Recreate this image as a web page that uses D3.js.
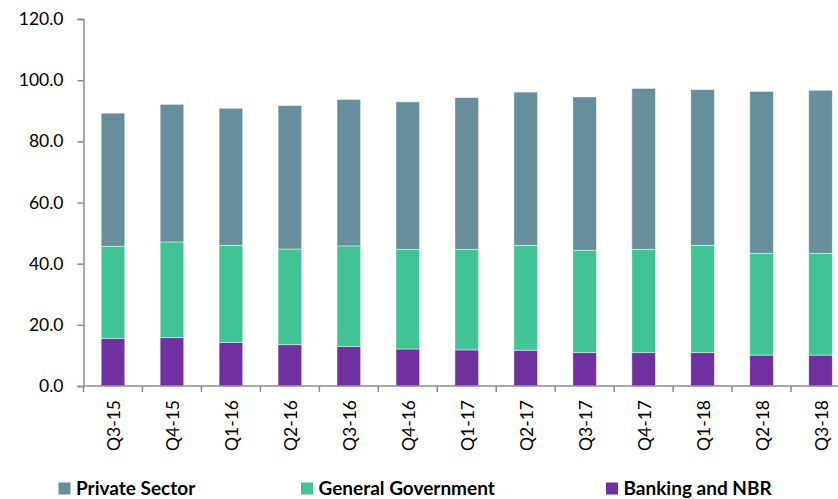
<!DOCTYPE html>
<html>
<head>
<meta charset="utf-8">
<script src="https://cdn.jsdelivr.net/npm/d3@7"></script>
<style>
  html, body { margin: 0; padding: 0; background: #fff; }
  svg { display: block; font-family: Lato, "Open Sans", sans-serif; }
</style>
</head>
<body>
<svg id="chart" width="838" height="499"></svg>
<script>
// Quarterly shares by holder (stacked)
const quarters = ["Q3-15","Q4-15","Q1-16","Q2-16","Q3-16","Q4-16","Q1-17","Q2-17","Q3-17","Q4-17","Q1-18","Q2-18","Q3-18"];
const bankingNBR = [15.6, 15.8, 14.2, 13.5, 12.9, 12.1, 11.8, 11.7, 10.9, 10.9, 10.9, 10.1, 10.1];
const generalGovernment = [30.1, 31.3, 31.8, 31.3, 32.9, 32.6, 32.9, 34.3, 33.5, 33.8, 35.1, 33.3, 33.3];
const privateSector = [43.5, 45.0, 44.8, 46.9, 47.9, 48.2, 49.6, 50.1, 50.1, 52.6, 50.9, 52.9, 53.3];
const yTicks = [0, 20, 40, 60, 80, 100, 120];

const seriesKeys = ["Banking and NBR", "General Government", "Private Sector"];
const colors = {
  "Private Sector": "#668f9b",
  "General Government": "#40c395",
  "Banking and NBR": "#7030a0"
};
const legendOrder = ["Private Sector", "General Government", "Banking and NBR"];

const rows = quarters.map((q, i) => ({
  quarter: q,
  "Banking and NBR": bankingNBR[i],
  "General Government": generalGovernment[i],
  "Private Sector": privateSector[i]
}));

const svg = d3.select("#chart");
const x0 = 83.5, x1 = 850, yBottom = 386, yTop = 19;

const x = d3.scaleBand().domain(quarters).range([x0, x1]).paddingInner(0.6).paddingOuter(0.3);
const y = d3.scaleLinear().domain([0, 120]).range([yBottom, yTop]);

const stacked = d3.stack().keys(seriesKeys)(rows);

// Bars
svg.append("g").selectAll("g")
  .data(stacked)
  .join("g")
  .attr("fill", d => colors[d.key])
  .selectAll("rect")
  .data(d => d)
  .join("rect")
  .attr("x", d => x(d.data.quarter))
  .attr("width", x.bandwidth())
  .attr("y", d => y(d[1]))
  .attr("height", d => y(d[0]) - y(d[1]))
  .attr("stroke", "#ffffff")
  .attr("stroke-opacity", 0.55)
  .attr("stroke-width", 0.8);

const axisColor = "#8c8c8c";

// Y axis
const yAxis = svg.append("g")
  .attr("transform", `translate(${x0},0)`)
  .call(d3.axisLeft(y).tickValues(yTicks).tickFormat(d3.format(".1f")).tickSize(6).tickPadding(14));
yAxis.select(".domain").attr("stroke", axisColor).attr("stroke-width", 1.5);
yAxis.selectAll(".tick line").attr("stroke", axisColor).attr("stroke-width", 1.5);
yAxis.selectAll(".tick text")
  .attr("fill", "#000")
  .style("font-size", "17.5px")
  .style("font-family", "Lato, sans-serif");

// X axis baseline with ticks at category boundaries
const step = x.step();
const boundaries = d3.range(quarters.length + 1).map(i => x0 + i * step);
const xg = svg.append("g");
xg.append("line")
  .attr("x1", x0).attr("x2", x1)
  .attr("y1", yBottom).attr("y2", yBottom)
  .attr("stroke", axisColor).attr("stroke-width", 1.5);
xg.selectAll("line.tick")
  .data(boundaries)
  .join("line")
  .attr("class", "tick")
  .attr("x1", d => d).attr("x2", d => d)
  .attr("y1", yBottom).attr("y2", yBottom + 6)
  .attr("stroke", axisColor).attr("stroke-width", 1.5);

// Rotated category labels
xg.selectAll("text")
  .data(quarters)
  .join("text")
  .attr("transform", d => `translate(${x(d) + x.bandwidth() / 2 + 1},${yBottom + 14}) rotate(-90)`)
  .attr("text-anchor", "end")
  .attr("dy", "0.35em")
  .style("font-size", "17.5px")
  .attr("fill", "#000")
  .text(d => d);

// Legend
const legendX = { "Private Sector": 58.5, "General Government": 301, "Banking and NBR": 606 };
const lg = svg.append("g");
legendOrder.forEach(k => {
  lg.append("rect")
    .attr("x", legendX[k]).attr("y", 482.5)
    .attr("width", 12).attr("height", 12)
    .attr("fill", colors[k]);
  lg.append("text")
    .attr("x", legendX[k] + 17.5).attr("y", 494.5)
    .style("font-size", "19px")
    .style("font-weight", "bold")
    .attr("fill", "#000")
    .text(k);
});
</script>
</body>
</html>
